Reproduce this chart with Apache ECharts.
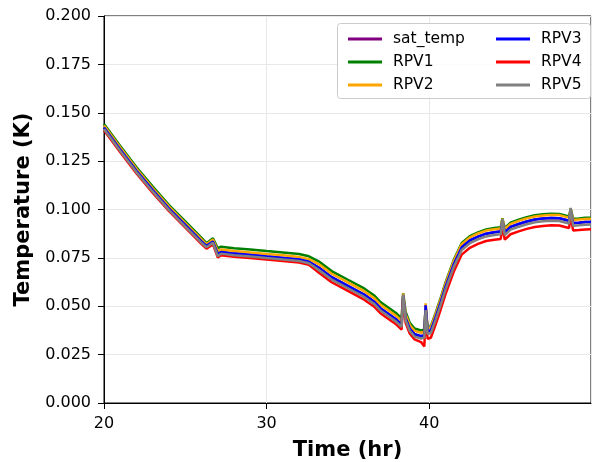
<!DOCTYPE html>
<html>
<head>
<meta charset="utf-8">
<script src="https://cdn.jsdelivr.net/npm/echarts@6/dist/echarts.min.js"></script>
<style>html,body{margin:0;padding:0;background:#fff}#c{width:593px;height:462px}</style>
</head>
<body>
<div id="c"></div>
<script>
// time (hr)
const timeHr = [20, 21, 22, 23, 24, 25, 26, 26.3, 26.7, 27.0, 27.2, 28, 29, 30, 31, 32, 32.6, 33.2, 34, 35, 36, 36.6, 37, 37.5, 38, 38.3, 38.4, 38.55, 38.8, 39.1, 39.5, 39.7, 39.78, 39.9, 40.1, 40.4, 40.7, 41, 41.5, 42, 42.5, 43, 43.5, 44, 44.4, 44.5, 44.65, 45, 45.5, 46, 46.5, 47, 47.5, 48, 48.6, 48.7, 48.85, 49.2, 49.6, 49.95];

const satTemp = [0.1424, 0.1310, 0.1200, 0.1100, 0.1005, 0.0920, 0.0835, 0.0812, 0.0835, 0.0770, 0.0780, 0.0772, 0.0765, 0.0757, 0.0750, 0.0742, 0.0730, 0.0700, 0.0650, 0.0605, 0.0560, 0.0525, 0.0490, 0.0460, 0.0430, 0.0405, 0.0555, 0.0440, 0.0385, 0.0355, 0.0345, 0.0350, 0.0505, 0.0370, 0.0375, 0.0445, 0.0520, 0.0600, 0.0715, 0.0805, 0.0840, 0.0860, 0.0875, 0.0882, 0.0886, 0.0940, 0.0882, 0.0910, 0.0925, 0.0938, 0.0948, 0.0953, 0.0956, 0.0955, 0.0942, 0.0995, 0.0930, 0.0932, 0.0935, 0.0936];

const rpv1 = [0.1442, 0.1328, 0.1218, 0.1118, 0.1023, 0.0938, 0.0853, 0.0826, 0.0851, 0.0800, 0.0808, 0.0800, 0.0793, 0.0785, 0.0778, 0.0770, 0.0758, 0.0732, 0.0682, 0.0637, 0.0592, 0.0557, 0.0522, 0.0492, 0.0462, 0.0437, 0.0567, 0.0470, 0.0415, 0.0385, 0.0375, 0.0380, 0.0490, 0.0392, 0.0397, 0.0467, 0.0542, 0.0622, 0.0737, 0.0827, 0.0862, 0.0882, 0.0897, 0.0904, 0.0908, 0.0955, 0.0904, 0.0932, 0.0947, 0.0960, 0.0970, 0.0975, 0.0978, 0.0977, 0.0964, 0.1005, 0.0952, 0.0954, 0.0957, 0.0958];

const rpv2 = [0.1434, 0.1320, 0.1210, 0.1110, 0.1015, 0.0930, 0.0845, 0.0820, 0.0845, 0.0785, 0.0793, 0.0785, 0.0778, 0.0770, 0.0763, 0.0755, 0.0743, 0.0718, 0.0668, 0.0623, 0.0578, 0.0543, 0.0508, 0.0478, 0.0448, 0.0423, 0.0566, 0.0458, 0.0403, 0.0373, 0.0363, 0.0368, 0.0515, 0.0386, 0.0391, 0.0461, 0.0536, 0.0616, 0.0731, 0.0821, 0.0856, 0.0876, 0.0891, 0.0898, 0.0902, 0.0952, 0.0898, 0.0926, 0.0941, 0.0954, 0.0964, 0.0969, 0.0972, 0.0971, 0.0958, 0.1003, 0.0946, 0.0948, 0.0951, 0.0952];

const rpv3 = [0.1424, 0.1310, 0.1200, 0.1100, 0.1005, 0.0920, 0.0835, 0.0812, 0.0835, 0.0770, 0.0780, 0.0772, 0.0765, 0.0757, 0.0750, 0.0742, 0.0730, 0.0700, 0.0650, 0.0605, 0.0560, 0.0525, 0.0490, 0.0460, 0.0430, 0.0405, 0.0555, 0.0440, 0.0385, 0.0355, 0.0345, 0.0350, 0.0505, 0.0370, 0.0375, 0.0445, 0.0520, 0.0600, 0.0715, 0.0805, 0.0840, 0.0860, 0.0875, 0.0882, 0.0886, 0.0940, 0.0882, 0.0910, 0.0925, 0.0938, 0.0948, 0.0953, 0.0956, 0.0955, 0.0942, 0.0995, 0.0930, 0.0932, 0.0935, 0.0936];

const rpv4 = [0.1410, 0.1296, 0.1186, 0.1086, 0.0991, 0.0906, 0.0821, 0.0798, 0.0820, 0.0752, 0.0764, 0.0756, 0.0749, 0.0741, 0.0734, 0.0726, 0.0714, 0.0674, 0.0624, 0.0579, 0.0534, 0.0499, 0.0464, 0.0434, 0.0404, 0.0379, 0.0540, 0.0414, 0.0359, 0.0329, 0.0315, 0.0292, 0.0450, 0.0332, 0.0337, 0.0407, 0.0482, 0.0562, 0.0677, 0.0767, 0.0802, 0.0822, 0.0837, 0.0844, 0.0848, 0.0912, 0.0844, 0.0872, 0.0887, 0.0900, 0.0910, 0.0915, 0.0918, 0.0917, 0.0904, 0.0965, 0.0892, 0.0894, 0.0897, 0.0898];

const rpv5 = [0.1416, 0.1302, 0.1192, 0.1092, 0.0997, 0.0912, 0.0827, 0.0805, 0.0828, 0.0758, 0.0772, 0.0764, 0.0757, 0.0749, 0.0742, 0.0734, 0.0722, 0.0688, 0.0638, 0.0593, 0.0548, 0.0513, 0.0478, 0.0448, 0.0418, 0.0393, 0.0560, 0.0428, 0.0373, 0.0343, 0.0333, 0.0338, 0.0480, 0.0356, 0.0361, 0.0431, 0.0506, 0.0586, 0.0701, 0.0791, 0.0826, 0.0846, 0.0861, 0.0868, 0.0872, 0.0950, 0.0868, 0.0896, 0.0911, 0.0924, 0.0934, 0.0939, 0.0942, 0.0941, 0.0928, 0.1008, 0.0916, 0.0918, 0.0921, 0.0922];

const seriesNames = ['sat_temp', 'RPV1', 'RPV2', 'RPV3', 'RPV4', 'RPV5'];
const seriesValues = [satTemp, rpv1, rpv2, rpv3, rpv4, rpv5];
const seriesColors = ['#800080', '#008000', '#FFA500', '#0000FF', '#FF0000', '#808080'];

const FONT = 'DejaVu Sans';
const chart = echarts.init(document.getElementById('c'), null, {renderer: 'canvas'});

const series = seriesNames.map((n, k) => ({
  name: n,
  type: 'line',
  data: timeHr.map((t, i) => [t, seriesValues[k][i]]),
  showSymbol: false,
  symbol: 'none',
  color: seriesColors[k],
  lineStyle: {width: 2.5, color: seriesColors[k]},
  animation: false,
  z: 3 + k
}));

const legendCommon = {
  orient: 'vertical',
  top: 26,
  itemWidth: 34,
  itemHeight: 3,
  itemGap: 7,
  icon: 'rect',
  textStyle: {fontFamily: FONT, fontSize: 15.5, color: '#000', lineHeight: 15, padding: [0, 0, 0, 6]},
  z: 10
};

chart.setOption({
  animation: false,
  backgroundColor: '#fff',
  grid: {left: 104, right: 2, top: 16, bottom: 59, show: true, borderColor: '#000', borderWidth: 1, backgroundColor: 'transparent', containLabel: false, outerBoundsMode: 'none'},
  legend: [
    Object.assign({}, legendCommon, {left: 343, data: ['sat_temp', 'RPV1', 'RPV2']}),
    Object.assign({}, legendCommon, {left: 491, data: ['RPV3', 'RPV4', 'RPV5']})
  ],
  graphic: [{
    type: 'rect',
    left: 337, top: 23,
    shape: {width: 253, height: 75, r: 3},
    style: {fill: 'rgba(255,255,255,0.85)', stroke: '#cccccc', lineWidth: 1},
    z: 5
  }],
  xAxis: {
    type: 'value',
    min: 20, max: 49.95, interval: 10,
    name: 'Time (hr)',
    nameLocation: 'middle',
    nameGap: 37,
    nameTextStyle: {fontFamily: FONT, fontSize: 21, fontWeight: 'bold', color: '#000'},
    axisLine: {show: true, lineStyle: {color: '#000', width: 1}},
    axisTick: {show: true, length: 6, lineStyle: {color: '#000'}},
    axisLabel: {fontFamily: FONT, fontSize: 16, color: '#000', margin: 13, showMaxLabel: false},
    splitLine: {show: true, lineStyle: {color: '#e8e8e8', width: 1}}
  },
  yAxis: {
    type: 'value',
    min: 0, max: 0.2, interval: 0.025,
    name: 'Temperature (K)',
    nameLocation: 'middle',
    nameGap: 68,
    nameRotate: 90,
    nameTextStyle: {fontFamily: FONT, fontSize: 21, fontWeight: 'bold', color: '#000'},
    axisLine: {show: true, lineStyle: {color: '#000', width: 1}},
    axisTick: {show: true, length: 6, lineStyle: {color: '#000'}},
    axisLabel: {fontFamily: FONT, fontSize: 16, color: '#000', margin: 13, formatter: v => v.toFixed(3)},
    splitLine: {show: true, lineStyle: {color: '#e8e8e8', width: 1}}
  },
  series: series
});
</script>
</body>
</html>
